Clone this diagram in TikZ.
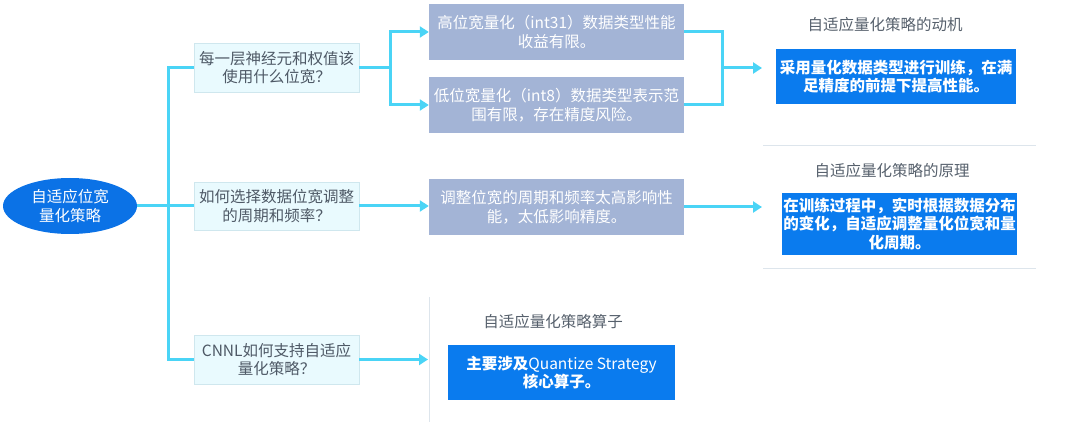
\documentclass[tikz,border=0pt]{standalone}
\usepackage{fontspec}
\setmainfont{Noto Sans CJK SC}
\usetikzlibrary{arrows.meta,shapes.geometric}
\definecolor{conn}{HTML}{4AD4F6}
\definecolor{qfill}{HTML}{E9FAFE}
\definecolor{qline}{HTML}{CFE7EE}
\definecolor{qtext}{HTML}{4E5966}
\definecolor{afill}{HTML}{A3B4D6}
\definecolor{bfill}{HTML}{0A7BEE}
\definecolor{rfill}{HTML}{0B72E6}
\definecolor{ttext}{HTML}{56606C}
\definecolor{sep}{HTML}{DDE5EC}
\tikzset{
  txt/.style={font=\fontsize{15.5}{18.5}\selectfont, align=center, inner sep=0pt},
  qbox/.style={txt, draw=qline, fill=qfill, text=qtext, line width=0.8pt},
  abox/.style={txt, fill=afill, text=white},
  bbox/.style={txt, fill=bfill, text=white, font=\fontsize{15.5}{18.5}\selectfont\bfseries},
  ttl/.style={txt, text=ttext},
  cline/.style={draw=conn, line width=3pt},
  carrow/.style={cline, -{Triangle[length=9pt,width=11pt]}},
  sepline/.style={draw=sep, line width=1pt}
}
\begin{document}
\begin{tikzpicture}[x=1pt,y=-1pt]
\useasboundingbox (0,0) rectangle (1068,422);
% separators
\coordinate (s1a) at (763,146); \coordinate (s1b) at (1036,146);
\coordinate (s2a) at (763,268); \coordinate (s2b) at (1036,268);
\coordinate (s3a) at (429,297); \coordinate (s3b) at (429,422);
\draw[sepline] (s1a) -- (s1b);
\draw[sepline] (s2a) -- (s2b);
\draw[sepline] (s3a) -- (s3b);
% nodes
\node[ellipse, fill=rfill, text=white, txt, minimum width=134pt, minimum height=56pt] (root) at (70,206) {自适应位宽\\量化策略};
\node[qbox, minimum width=165pt, minimum height=49pt] (q1) at (276.5,67.5) {每一层神经元和权值该\\使用什么位宽？};
\node[qbox, minimum width=165pt, minimum height=48pt] (q2) at (276.5,206) {如何选择数据位宽调整\\的周期和频率？};
\node[qbox, minimum width=165pt, minimum height=49pt] (q3) at (276.5,359.5) {CNNL如何支持自适应\\量化策略？};
\node[abox, minimum width=255pt, minimum height=56pt] (a1) at (556.5,32) {高位宽量化（int31）数据类型性能\\收益有限。};
\node[abox, minimum width=255pt, minimum height=56pt] (a2) at (556.5,105) {低位宽量化（int8）数据类型表示范\\围有限，存在精度风险。};
\node[abox, minimum width=255pt, minimum height=55pt] (c) at (556.5,207) {调整位宽的周期和频率太高影响性\\能，太低影响精度。};
\node[bbox, minimum width=240pt, minimum height=55pt] (m1) at (896,76.5) {采用量化数据类型进行训练，在满\\足精度的前提下提高性能。};
\node[bbox, minimum width=235pt, minimum height=62pt] (m2) at (899.5,224) {在训练过程中，实时根据数据分布\\的变化，自适应调整量化位宽和量\\化周期。};
\node[bbox, minimum width=227pt, minimum height=55pt] (m3) at (561.5,372.5) {主要涉及{\mdseries Quantize Strategy}\\核心算子。};
\node[ttl] (t1) at (885,25) {自适应量化策略的动机};
\node[ttl] (t2) at (892,171) {自适应量化策略的原理};
\node[ttl] (t3) at (553,322) {自适应量化策略算子};
% connector helper coordinates
\coordinate (tr) at (168,0);
\coordinate (f1) at (390,0);
\coordinate (f2) at (722,68);
\coordinate (e1) at (762,68);
\coordinate (e2) at (762,0);
\coordinate (e3) at (428,0);
% connectors
\draw[cline] (root.east) -- (root.east -| q2.west);
\draw[cline] (q1.west) -- (q1.west -| tr) -- (q3.west -| tr) -- (q3.west);
\draw[cline] (q1.east) -- (q1.east -| f1);
\draw[carrow] (q1.east -| f1) |- (a1.west);
\draw[carrow] (q1.east -| f1) |- (a2.west);
\draw[cline] (a1.east) -| (f2);
\draw[cline] (a2.east) -| (f2);
\draw[carrow] (f2) -- (e1);
\draw[carrow] (q2.east) -- (q2.east -| c.west);
\draw[carrow] (c.east) -- (c.east -| e2);
\draw[carrow] (q3.east) -- (q3.east -| e3);
\end{tikzpicture}
\end{document}
